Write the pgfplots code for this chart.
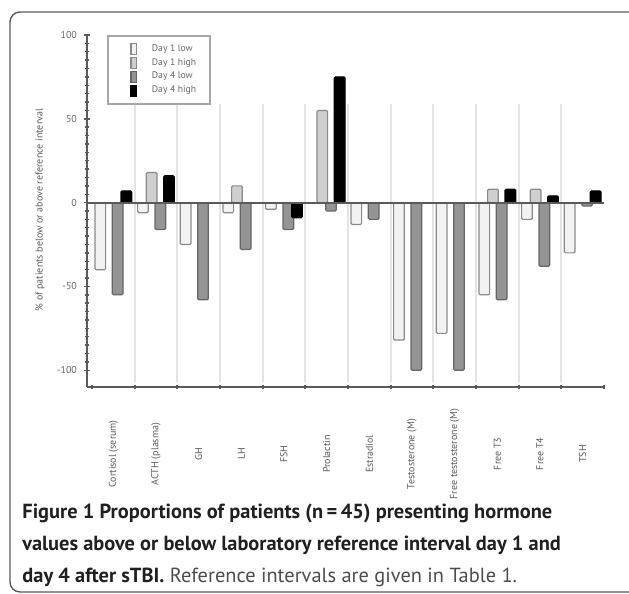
\documentclass[border=0pt]{standalone}
\usepackage{fontspec}
\setmainfont{PT Sans}
\usepackage{pgfplots}
\pgfplotsset{compat=1.18}
\definecolor{capcol}{HTML}{231F20}
\definecolor{axcol}{HTML}{5A5A5A}
\definecolor{lowone}{HTML}{F2F2F2}
\definecolor{highone}{HTML}{CFCFCF}
\definecolor{lowfour}{HTML}{949494}
\definecolor{edgecol}{HTML}{8A8A8A}
\pgfplotsset{
  mybar/.style={ybar, bar width=0.25, line width=0.6pt, rounded corners=0.6pt,
    legend image code/.code={\path[draw=none, fill=none] (0pt,0pt) -- (15pt,0pt);
      \draw[##1, rounded corners=0pt] (4.5pt,-2.8pt) rectangle (7.1pt,2.8pt);}},
}
\newcommand{\tinyf}{\fontsize{5}{6}\selectfont}
\begin{document}
\begin{tikzpicture}
\useasboundingbox (0,0) rectangle (314.5pt,297pt);
\draw[axcol, line width=0.7pt, rounded corners=5pt] (5pt,1pt) rectangle (330pt,291pt);
\begin{axis}[
  at={(43.5pt,103.5pt)}, anchor=south west,
  scale only axis, width=258.5pt, height=176pt,
  xmin=-0.617, xmax=11.5, ymin=-110, ymax=100,
  axis lines*=left,
  axis line style={axcol, line width=1pt},
  xtick={0,...,11},
  xticklabels={Cortisol (serum), ACTH (plasma), GH, LH, FSH, Prolactin, Estradiol, Testosterone (M), Free testosterone (M), Free T3, Free T4, TSH},
  major x tick style={draw=none},
  minor xtick={-0.5,0.5,...,11.5},
  minor x tick style={axcol, line width=0.9pt},
  ytick={-100,-50,0,50,100},
  minor y tick num=9,
  tick align=center,
  major tick length=3pt, minor tick length=2.2pt,
  every tick/.style={axcol, line width=0.7pt},
  /pgf/number format/assume math mode=true,
  yticklabel style={font=\tinyf, text=black!60},
  xticklabel style={font=\tinyf, text=black!65, yshift=-32pt, rotate=90, anchor=center},
  ylabel={\% of patients below or above reference interval},
  ylabel style={font=\tinyf, text=black!65, at={(axis description cs:-0.091,0.503)}, anchor=center},
  legend style={at={(0.039,1)}, anchor=north west, font=\fontsize{4.8}{5}\selectfont,
    draw=gray!70, line width=0.8pt, inner xsep=7pt, inner ysep=3.6pt, row sep=0.75pt,
    text=black!60, nodes={inner sep=0pt}, cells={anchor=west}},
  clip=false,
]
\pgfplotsinvokeforeach{0.5,1.5,...,10.5}{
  \draw[gray!22, line width=1pt] (axis cs:#1,-107) -- (axis cs:#1,59);
}
% Day 1 low
\addplot[mybar, bar shift=-0.305, fill=lowone, draw=edgecol] coordinates {
 (0,-40) (1,-6) (2,-25) (3,-6) (4,-4) (6,-13) (7,-82) (8,-78) (9,-55) (10,-10) (11,-30)};
% Day 1 high
\addplot[mybar, bar shift=-0.102, fill=highone, draw=edgecol] coordinates {
 (1,18) (3,10) (5,55) (9,8) (10,8)};
% Day 4 low
\addplot[mybar, bar shift=0.102, fill=lowfour, draw=black!60] coordinates {
 (0,-55) (1,-16) (2,-58) (3,-28) (4,-16) (5,-5) (6,-10) (7,-100) (8,-100) (9,-58) (10,-38) (11,-2)};
% Day 4 high
\addplot[mybar, bar shift=0.305, fill=black, draw=black] coordinates {
 (0,7) (1,16) (4,-9) (5,75) (9,8) (10,4) (11,7)};
\legend{Day 1 low, Day 1 high, Day 4 low, Day 4 high}
\draw[axcol, line width=1pt] (axis cs:-0.617,0) -- (axis cs:11.5,0);
\end{axis}
\node[anchor=base west, font=\fontsize{10.2}{11}\selectfont\bfseries, text=capcol, inner sep=0pt] at (11pt,37.5pt) {Figure 1 Proportions of patients (n\,=\,45) presenting hormone};
\node[anchor=base west, font=\fontsize{10.2}{11}\selectfont\bfseries, text=capcol, inner sep=0pt] at (11pt,21.5pt) {values above or below laboratory reference interval day 1 and};
\node[anchor=base west, font=\fontsize{10.2}{11}\selectfont, text=capcol, inner sep=0pt] at (11pt,5.5pt) {\textbf{day 4 after sTBI.} \textcolor{black!70}{Reference intervals are given in Table 1.}};
\end{tikzpicture}
\end{document}
